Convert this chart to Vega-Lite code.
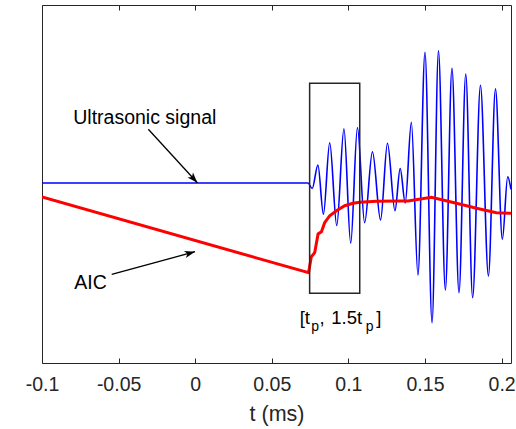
{
  "$schema": "https://vega.github.io/schema/vega-lite/v6.json",
  "width": 469,
  "height": 358,
  "autosize": {"type": "none"},
  "padding": {"left": 42, "top": 5, "right": 5, "bottom": 66},
  "background": "white",
  "config": {
    "font": "Liberation Sans",
    "view": {"stroke": "#262626", "strokeWidth": 1},
    "axis": {
      "grid": false,
      "labelFont": "Liberation Sans",
      "titleFont": "Liberation Sans",
      "labelColor": "#262626",
      "titleColor": "#262626",
      "tickColor": "#262626",
      "labelFontSize": 19.5,
      "titleFontSize": 21.5,
      "titleFontWeight": "normal"
    }
  },
  "datasets": {
    "signal": [
      {"t": -0.1, "amp": 0},
      {"t": 0.0736, "amp": 0},
      {"t": 0.0764, "amp": -0.055},
      {"t": 0.0801, "amp": 0.18},
      {"t": 0.0837, "amp": -0.312},
      {"t": 0.0878, "amp": 0.403},
      {"t": 0.0924, "amp": -0.425},
      {"t": 0.0971, "amp": 0.542},
      {"t": 0.1015, "amp": -0.603},
      {"t": 0.1059, "amp": 0.555},
      {"t": 0.1106, "amp": -0.397},
      {"t": 0.1157, "amp": 0.312},
      {"t": 0.121, "amp": -0.37},
      {"t": 0.1255, "amp": 0.397},
      {"t": 0.1304, "amp": -0.277},
      {"t": 0.1338, "amp": 0.145},
      {"t": 0.1371, "amp": -0.2},
      {"t": 0.1411, "amp": 0.607},
      {"t": 0.1454, "amp": -0.92},
      {"t": 0.15, "amp": 1.307},
      {"t": 0.1546, "amp": -1.397},
      {"t": 0.1588, "amp": 1.323},
      {"t": 0.1633, "amp": -1.07},
      {"t": 0.1676, "amp": 1.147},
      {"t": 0.1722, "amp": -1.097},
      {"t": 0.1766, "amp": 1.09},
      {"t": 0.1811, "amp": -1.147},
      {"t": 0.1862, "amp": 0.977},
      {"t": 0.1914, "amp": -0.93},
      {"t": 0.196, "amp": 0.943},
      {"t": 0.2005, "amp": -0.563},
      {"t": 0.204, "amp": 0.063},
      {"t": 0.2061, "amp": -0.063}
    ],
    "aic": [
      {"t": -0.1, "amp": -0.14},
      {"t": 0.074, "amp": -0.897},
      {"t": 0.0758, "amp": -0.737},
      {"t": 0.078, "amp": -0.697},
      {"t": 0.0802, "amp": -0.51},
      {"t": 0.0824, "amp": -0.487},
      {"t": 0.0845, "amp": -0.397},
      {"t": 0.0878, "amp": -0.327},
      {"t": 0.0922, "amp": -0.277},
      {"t": 0.0976, "amp": -0.227},
      {"t": 0.103, "amp": -0.203},
      {"t": 0.1074, "amp": -0.193},
      {"t": 0.1183, "amp": -0.183},
      {"t": 0.1335, "amp": -0.18},
      {"t": 0.1389, "amp": -0.18},
      {"t": 0.1542, "amp": -0.143},
      {"t": 0.1705, "amp": -0.203},
      {"t": 0.1836, "amp": -0.253},
      {"t": 0.1966, "amp": -0.297},
      {"t": 0.2061, "amp": -0.303}
    ],
    "box": [
      {"t": 0.0747, "t2": 0.1074, "amp": 0.997, "amp2": -1.103}
    ],
    "arrows": [
      {"name": "sig", "t": -0.0306, "amp": 0.537, "t2": 0.0014, "amp2": 0.003},
      {"name": "aic", "t": -0.0545, "amp": -0.913, "t2": -0.0001, "amp2": -0.687}
    ],
    "labels": [
      {"text": "Ultrasonic signal", "t": -0.0796, "amp": 0.587},
      {"text": "AIC", "t": -0.0789, "amp": -1.063}
    ],
    "bracket": [
      {"text": "[t", "t": 0.0682, "amp": -1.407},
      {"text": ",", "t": 0.0811, "amp": -1.407},
      {"text": "1.5t", "t": 0.0888, "amp": -1.407},
      {"text": "]", "t": 0.1182, "amp": -1.407}
    ],
    "subs": [
      {"text": "p", "t": 0.0758, "amp": -1.484},
      {"text": "p", "t": 0.1113, "amp": -1.484}
    ]
  },
  "resolve": {"axis": {"x": "independent"}},
  "layer": [
    {
      "data": {"name": "signal"},
      "mark": {"type": "line", "color": "#0000FF", "strokeWidth": 1.6, "interpolate": "monotone", "clip": true},
      "encoding": {
        "x": {
          "field": "t", "type": "quantitative",
          "scale": {"domain": [-0.1, 0.20614], "nice": false, "zero": false},
          "axis": {
            "orient": "bottom",
            "values": [-0.1, -0.05, 0, 0.05, 0.1, 0.15, 0.2],
            "labelExpr": "toString(datum.value)",
            "domain": false,
            "tickSize": -5,
            "labelPadding": 32.5,
            "labelBaseline": "alphabetic",
            "labelFlush": false,
            "labelOverlap": false,
            "title": "t (ms)",
            "titleX": 234.5,
            "titleY": 57,
            "titleBaseline": "alphabetic"
          }
        },
        "y": {
          "field": "amp", "type": "quantitative",
          "scale": {"domain": [-1.8, 1.78], "nice": false, "zero": false},
          "axis": {
            "title": "Normalized Amplitude",
            "labels": false,
            "ticks": false,
            "domain": false,
            "titleX": -12,
            "titleY": 179,
            "titleAngle": -90,
            "titleBaseline": "alphabetic",
            "titleAlign": "center"
          }
        }
      }
    },
    {
      "data": {"name": "aic"},
      "mark": {"type": "line", "color": "#FF0000", "strokeWidth": 3, "clip": true},
      "encoding": {
        "x": {
          "field": "t", "type": "quantitative",
          "axis": {
            "orient": "top",
            "values": [-0.1, -0.05, 0, 0.05, 0.1, 0.15, 0.2],
            "labels": false,
            "domain": false,
            "tickSize": -5,
            "title": null
          }
        },
        "y": {"field": "amp", "type": "quantitative", "axis": null}
      }
    },
    {
      "data": {"name": "box"},
      "mark": {"type": "rect", "fillOpacity": 0, "stroke": "#262626", "strokeWidth": 1.5},
      "encoding": {
        "x": {"field": "t", "type": "quantitative", "axis": null},
        "x2": {"field": "t2"},
        "y": {"field": "amp", "type": "quantitative", "axis": null},
        "y2": {"field": "amp2"}
      }
    },
    {
      "data": {"name": "arrows"},
      "mark": {"type": "rule", "color": "#000000", "strokeWidth": 1.3},
      "encoding": {
        "x": {"field": "t", "type": "quantitative", "axis": null},
        "x2": {"field": "t2"},
        "y": {"field": "amp", "type": "quantitative", "axis": null},
        "y2": {"field": "amp2"}
      }
    },
    {
      "data": {"name": "arrows"},
      "transform": [{"filter": "datum.name === 'sig'"}],
      "mark": {"type": "point", "shape": "M0,0 L0.7,2 L0,1.5 L-0.7,2 Z", "filled": true, "color": "#000000", "opacity": 1, "size": 110, "angle": 137.5},
      "encoding": {
        "x": {"field": "t2", "type": "quantitative", "axis": null},
        "y": {"field": "amp2", "type": "quantitative", "axis": null}
      }
    },
    {
      "data": {"name": "arrows"},
      "transform": [{"filter": "datum.name === 'aic'"}],
      "mark": {"type": "point", "shape": "M0,0 L0.7,2 L0,1.5 L-0.7,2 Z", "filled": true, "color": "#000000", "opacity": 1, "size": 110, "angle": 74.8},
      "encoding": {
        "x": {"field": "t2", "type": "quantitative", "axis": null},
        "y": {"field": "amp2", "type": "quantitative", "axis": null}
      }
    },
    {
      "data": {"name": "labels"},
      "mark": {"type": "text", "align": "left", "baseline": "alphabetic", "font": "Liberation Sans", "fontSize": 19.5, "color": "#000000"},
      "encoding": {
        "x": {"field": "t", "type": "quantitative", "axis": null},
        "y": {"field": "amp", "type": "quantitative", "axis": null},
        "text": {"field": "text"}
      }
    },
    {
      "data": {"name": "bracket"},
      "mark": {"type": "text", "align": "left", "baseline": "alphabetic", "font": "Liberation Sans", "fontSize": 18.5, "color": "#000000"},
      "encoding": {
        "x": {"field": "t", "type": "quantitative", "axis": null},
        "y": {"field": "amp", "type": "quantitative", "axis": null},
        "text": {"field": "text"}
      }
    },
    {
      "data": {"name": "subs"},
      "mark": {"type": "text", "align": "left", "baseline": "alphabetic", "font": "Liberation Sans", "fontSize": 14, "color": "#000000"},
      "encoding": {
        "x": {"field": "t", "type": "quantitative", "axis": null},
        "y": {"field": "amp", "type": "quantitative", "axis": null},
        "text": {"field": "text"}
      }
    }
  ]
}
